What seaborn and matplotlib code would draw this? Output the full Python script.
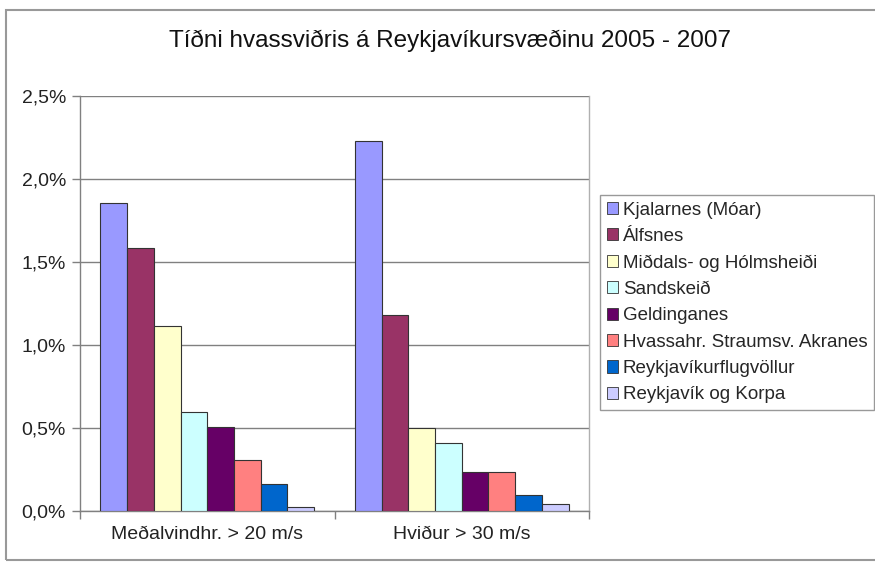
# Tíðni hvassviðris á Reykjavíkursvæðinu 2005 - 2007 (Excel-style grouped bars)

import matplotlib
matplotlib.use('Agg')
import matplotlib.pyplot as plt
from matplotlib.patches import Rectangle
from matplotlib.ticker import FuncFormatter, FixedLocator
import seaborn as sns
import pandas as pd

categories = ['Meðalvindhr. > 20 m/s', 'Hviður > 30 m/s']
stations = ['Kjalarnes (Móar)', 'Álfsnes', 'Miðdals- og Hólmsheiði', 'Sandskeið',
            'Geldinganes', 'Hvassahr. Straumsv. Akranes', 'Reykjavíkurflugvöllur',
            'Reykjavík og Korpa']
mean_wind = [1.855, 1.586, 1.114, 0.598, 0.508, 0.307, 0.161, 0.026]
gusts = [2.23, 1.18, 0.503, 0.407, 0.235, 0.235, 0.099, 0.04]
colors = ['#9999FF', '#993366', '#FFFFCC', '#CCFFFF', '#660066', '#FF8080', '#0066CC', '#CCCCFF']

rows = []
for st, a, b in zip(stations, mean_wind, gusts):
    rows.append({'cat': categories[0], 'station': st, 'value': a})
    rows.append({'cat': categories[1], 'station': st, 'value': b})
df = pd.DataFrame(rows)

sns.set_style('white')
plt.rcParams['font.family'] = ['Liberation Sans', 'DejaVu Sans']

fig = plt.figure(figsize=(8.75, 5.62), dpi=100)
ax = fig.add_axes([80 / 875, 1 - 511 / 562, 509 / 875, 415 / 562])

sns.barplot(data=df, x='cat', y='value', hue='station', order=categories,
            hue_order=stations, palette=dict(zip(stations, colors)), saturation=1,
            width=0.84, edgecolor='#333333', linewidth=0.8, errorbar=None,
            legend=False, ax=ax, zorder=3)

ax.set_xlim(-0.5, 1.5)
ax.set_ylim(0, 2.5)
ax.set_yticks([0, 0.5, 1.0, 1.5, 2.0, 2.5])
ax.yaxis.set_major_formatter(FuncFormatter(lambda v, p: f'{v:.1f}%'.replace('.', ',')))
ax.grid(axis='y', color='#808080', linewidth=1.0, zorder=0)
ax.set_axisbelow(True)
ax.set_xlabel('')
ax.set_ylabel('')

# tick marks between the categories, none at the labels
ax.xaxis.set_minor_locator(FixedLocator([-0.5, 0.5, 1.5]))
ax.tick_params(axis='x', which='major', length=0, labelsize=14, pad=11, colors='#222222')
ax.tick_params(axis='x', which='minor', length=6, width=1, color='#808080', direction='out', bottom=True)
ax.tick_params(axis='y', length=6, width=1, color='#808080', direction='out', left=True,
               labelsize=14, pad=4, labelcolor='#222222')

ax.spines['top'].set_visible(False)
ax.spines['left'].set_color('#808080')
ax.spines['bottom'].set_color('#808080')
ax.spines['right'].set_color('#b0b0b0')
for s in ['left', 'bottom', 'right']:
    ax.spines[s].set_linewidth(1.0)

handles = [Rectangle((0, 0), 1, 1, facecolor=c, edgecolor='#333333', linewidth=0.6) for c in colors]
leg = fig.legend(handles, stations, loc='upper left', bbox_to_anchor=(600 / 875, 1 - 195 / 562),
                 frameon=True, fancybox=False, fontsize=13.5, handlelength=0.62, handleheight=0.62,
                 handletextpad=0.25, labelspacing=0.5, borderpad=0.35, borderaxespad=0)
leg.get_frame().set_edgecolor('#808080')
leg.get_frame().set_linewidth(1.0)

fig.text(450 / 875, 1 - 41 / 562, 'Tíðni hvassviðris á Reykjavíkursvæðinu 2005 - 2007',
         ha='center', va='center', fontsize=17.5, color='#111111')

# chart area border (right side runs off the picture)
fig.patches.append(Rectangle((6 / 875, 2 / 562), 1.2, 550 / 562, transform=fig.transFigure,
                             fill=False, edgecolor='#999999', linewidth=1.5))

fig.savefig('out.png', dpi=100)
